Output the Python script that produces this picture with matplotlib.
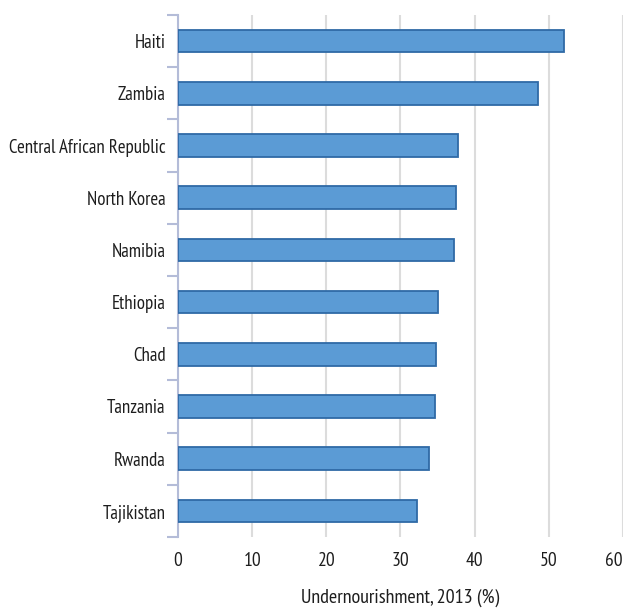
import matplotlib
matplotlib.use("Agg")
import matplotlib.pyplot as plt
import numpy as np

countries = ["Haiti", "Zambia", "Central African Republic", "North Korea", "Namibia",
             "Ethiopia", "Chad", "Tanzania", "Rwanda", "Tajikistan"]
values = [52.0, 48.5, 37.7, 37.5, 37.2, 35.0, 34.8, 34.6, 33.8, 32.2]
xticks = [0, 10, 20, 30, 40, 50, 60]
xlabel = "Undernourishment, 2013 (%)"

plt.rcParams["font.family"] = ["PT Sans Narrow", "DejaVu Sans"]

fig = plt.figure(figsize=(6.25, 6.10), dpi=100)
ax = fig.add_axes([0.2848, 0.1197, 0.712, 0.8557])

y = np.arange(len(countries))
ax.barh(y, values, height=0.43, color="#5b9bd5", edgecolor="#2f6aa6", linewidth=1.3, zorder=3)

ax.set_xlim(0, 60)
ax.set_ylim(len(countries) - 0.5, -0.5)
ax.set_xticks(xticks)
ax.set_xticklabels([str(t) for t in xticks], fontsize=14, color="#1e1e1e")
ax.tick_params(axis="x", length=0, pad=11)
last = ax.get_xticklabels()[-1]
last.set_horizontalalignment("right")
last.set_x(60.1)

ax.set_yticks(np.arange(-0.5, len(countries), 1.0))
ax.set_yticklabels([])
ax.set_yticks(y, minor=True)
ax.set_yticklabels(countries, minor=True, fontsize=13.6, color="#1e1e1e")
ax.tick_params(axis="y", which="major", length=8, width=1.5, color="#b4bcd8", direction="out")
ax.tick_params(axis="y", which="minor", length=0, pad=9)

ax.grid(axis="x", color="#dcdcdc", linewidth=1.5, zorder=0)
for s in ["top", "right", "bottom"]:
    ax.spines[s].set_visible(False)
ax.spines["left"].set_color("#b4bcd8")
ax.spines["left"].set_linewidth(1.5)

ax.set_xlabel(xlabel, fontsize=14.5, color="#1e1e1e", labelpad=13)

fig.savefig("out.png", dpi=100, facecolor="white")
